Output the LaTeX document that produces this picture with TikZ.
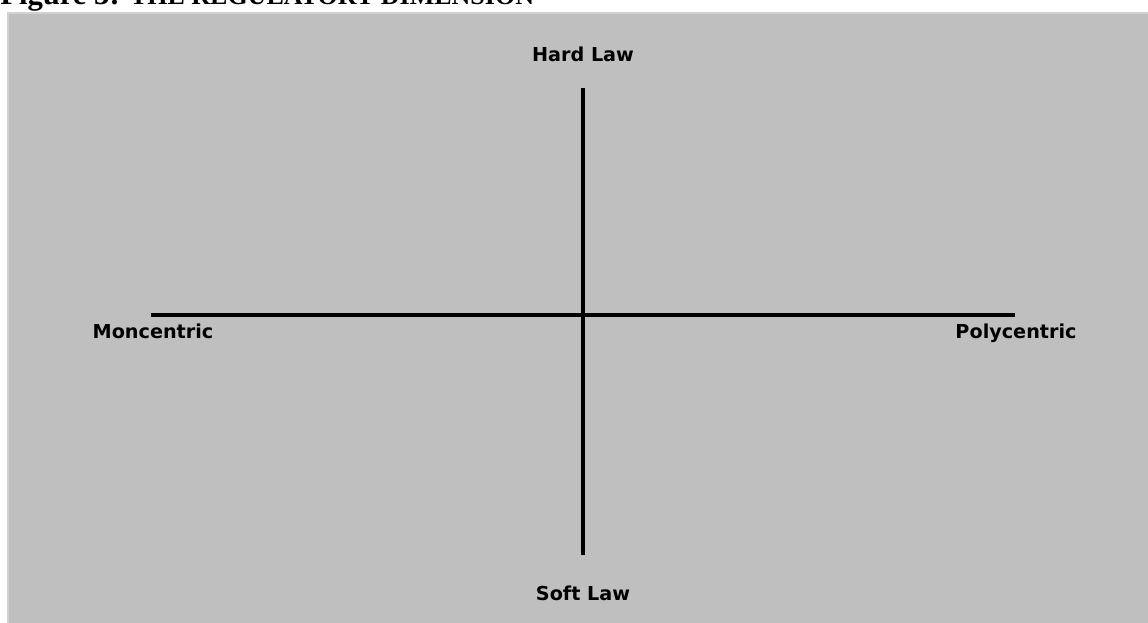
\documentclass[tikz,border=0pt]{standalone}
\usepackage{fontspec}
\setmainfont{Liberation Serif}
\newfontfamily\axisfont{DejaVu Sans}

\begin{document}
\begin{tikzpicture}[x=0.75pt, y=-0.75pt,
    axis/.style={line width=3.4pt, black},
    pole/.style={font=\axisfont\bfseries\fontsize{14.4}{17}\selectfont, inner sep=0pt, anchor=base}]
  \clip (0,0) rectangle (1148,622);

  % panel
  \fill[gray!50!white, draw=gray!35!white, line width=0.8pt] (8,13) rectangle (1152,630);

  % title, cut off at top
  \node[anchor=base west, inner sep=0pt, font=\bfseries\fontsize{23}{26}\selectfont]
    (title) at (0,4) {Figure 3: {\fontsize{19.5}{22}\selectfont THE REGULATORY DIMENSION}};

  % axis ends
  \coordinate (T) at (583,88);
  \coordinate (S) at (583,555);
  \coordinate (L) at (151,315);
  \coordinate (R) at (1015,315);

  \draw[axis] (T)--(S);   % hard -- soft
  \draw[axis] (L)--(R);   % mono -- poly

  \node[pole] (hard) at (583,61) {Hard Law};
  \node[pole] (soft) at (583,600) {Soft Law};
  \node[pole] (mono) at (153,338) {Moncentric};
  \node[pole] (poly) at (1016,338) {Polycentric};
\end{tikzpicture}
\end{document}
